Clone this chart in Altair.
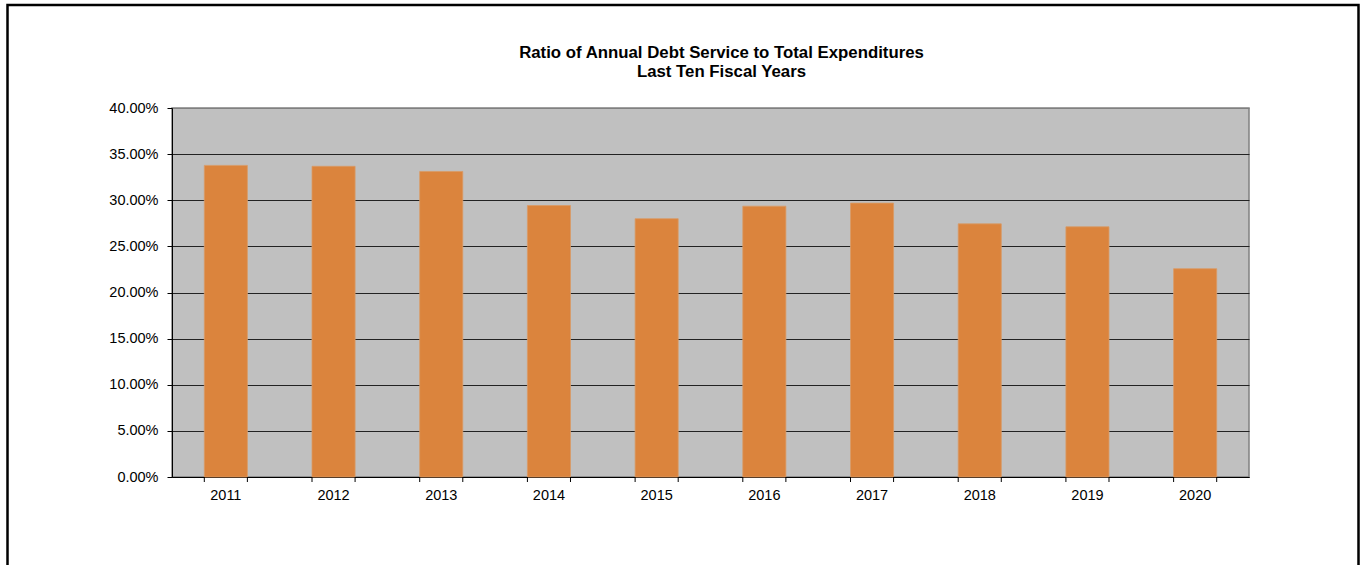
import altair as alt
import pandas as pd

years = ["2011", "2012", "2013", "2014", "2015", "2016", "2017", "2018", "2019", "2020"]
ratios = [0.3378, 0.3368, 0.3312, 0.2943, 0.2800, 0.2936, 0.2969, 0.2744, 0.2712, 0.2258]
y_ticks = [0.0, 0.05, 0.10, 0.15, 0.20, 0.25, 0.30, 0.35, 0.40]

df = pd.DataFrame({"year": years, "ratio": ratios})

W, H = 1077, 369
FONT = "Liberation Sans"

xscale = alt.Scale(paddingInner=0.6, paddingOuter=0.3)
yscale = alt.Scale(domain=[0, 0.4])

bars = alt.Chart(df).mark_bar(color="#DB843D", stroke="#D99A66", strokeWidth=0.8).encode(
    x=alt.X("year:N", scale=xscale, sort=years,
            axis=alt.Axis(title=None, labelAngle=0, ticks=False, domain=True,
                          domainColor="#000000", labelFont=FONT, labelFontSize=14.5,
                          labelColor="#000000", labelPadding=11, grid=False)),
    y=alt.Y("ratio:Q", scale=yscale,
            axis=alt.Axis(title=None, values=y_ticks, format=".2%", grid=True,
                          gridColor={"condition": {"test": "datum.value >= 0.399", "value": "#808080"},
                                     "value": "#222222"},
                          gridWidth=1, domainColor="#000000",
                          tickColor="#000000", tickSize=5, labelFont=FONT,
                          labelFontSize=14.5, labelColor="#000000", labelPadding=9)),
)

ticks0 = alt.Chart(df).mark_rule(color="#000000", strokeWidth=1).encode(
    x=alt.X("year:N", bandPosition=0, sort=years, scale=xscale),
    y=alt.value(H), y2=alt.value(H + 5),
)
ticks1 = alt.Chart(df).mark_rule(color="#000000", strokeWidth=1).encode(
    x=alt.X("year:N", bandPosition=1, sort=years, scale=xscale),
    y=alt.value(H), y2=alt.value(H + 5),
)

border = alt.Chart(pd.DataFrame({"k": [0]})).mark_rect(
    fill=None, fillOpacity=0, stroke="#000000", strokeWidth=2.5, clip=False
).encode(
    x=alt.value(-164.5), x2=alt.value(1186.5), y=alt.value(-103), y2=alt.value(520)
)

chart = alt.layer(bars, ticks0, ticks1, border).properties(
    width=W, height=H,
    background="#FFFFFF",
    autosize=alt.AutoSizeParams(type="none"),
    padding={"left": 172, "top": 108, "right": 112, "bottom": 88},
    title=alt.TitleParams(
        text=["Ratio of Annual Debt Service to Total Expenditures", "Last Ten Fiscal Years"],
        font=FONT, fontSize=16.8, fontWeight="bold", color="#000000",
        anchor="middle", frame="group", dx=11, offset=-77, lineHeight=18.5,
    ),
).configure_view(
    fill="#C0C0C0", stroke="#808080", strokeWidth=1.5
)

chart.save("out.html", embed_options={"renderer": "svg", "actions": False})
